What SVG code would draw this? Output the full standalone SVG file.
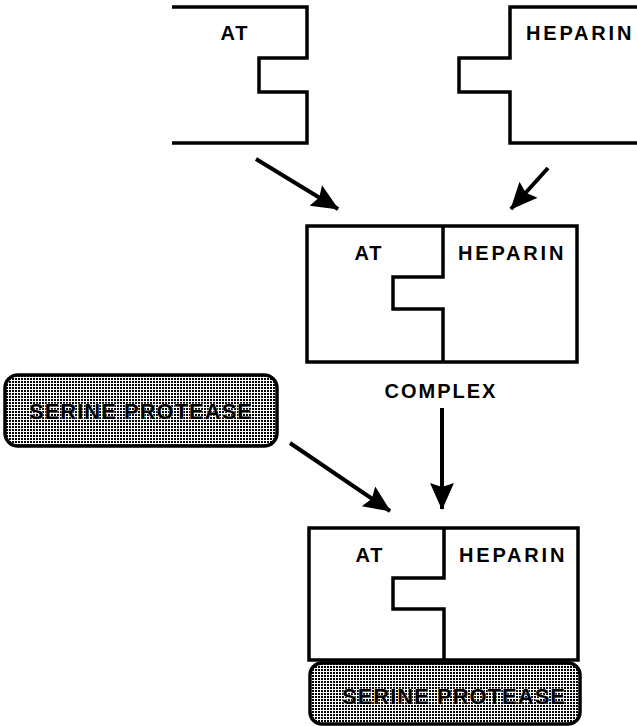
<svg xmlns="http://www.w3.org/2000/svg" width="637" height="726" viewBox="0 0 637 726">
  <style>
    .box { fill: none; stroke: #000; stroke-width: 3.5; stroke-linejoin: miter; }
    .lbl { font-family: "Liberation Sans", Arial, sans-serif; font-weight: bold; font-size: 20px; letter-spacing: 2px; fill: #000; }
    .hep { letter-spacing: 2.8px; }
    .ser { font-family: "Liberation Sans", Arial, sans-serif; font-weight: bold; font-size: 22px; letter-spacing: 1px; fill: #000; stroke: #fff; stroke-width: 0.6; paint-order: stroke; }
    .serbox { fill: url(#dots); stroke: #000; stroke-width: 3.5; }
    .conn { stroke: #000; stroke-width: 4; fill: none; }
  </style>
  <defs>
    <pattern id="dots" width="3" height="3" patternUnits="userSpaceOnUse">
      <rect width="3" height="3" fill="#fff"/>
      <rect x="0" y="0" width="2" height="2" fill="#000"/>
    </pattern>
    <marker id="ah" markerUnits="userSpaceOnUse" markerWidth="30" markerHeight="26" refX="26" refY="12" orient="auto">
      <path d="M0,0 L27,12 L0,24 L4,12 z" fill="#000"/>
    </marker>
  </defs>

  <rect width="637" height="726" fill="#fff"/>

  <g id="at-top">
    <path class="box" d="M172,7 H307 V58 H259 V92 H307 V143 H172"/>
    <text class="lbl" x="235" y="40" text-anchor="middle">AT</text>
  </g>

  <g id="heparin-top">
    <path class="box" d="M640,7 H510 V58 H459 V92 H510 V143 H640"/>
    <text class="lbl hep" x="526" y="40">HEPARIN</text>
  </g>

  <g id="complex">
    <rect class="box" x="307" y="226" width="270" height="136"/>
    <path class="box" d="M443,226 V277 H393 V309 H443 V362"/>
    <text class="lbl" x="369" y="260" text-anchor="middle">AT</text>
    <text class="lbl hep" x="458" y="260">HEPARIN</text>
    <text class="lbl" x="441" y="398" text-anchor="middle">COMPLEX</text>
  </g>

  <g id="serine-protease">
    <rect class="serbox" x="5" y="375" width="272" height="71" rx="13" ry="13"/>
    <text class="ser" x="141" y="419" text-anchor="middle">SERINE PROTEASE</text>
  </g>

  <g id="final-complex">
    <rect class="box" x="309" y="528" width="269" height="132"/>
    <path class="box" d="M444,528 V578 H393 V609 H444 V660"/>
    <text class="lbl" x="370" y="562" text-anchor="middle">AT</text>
    <text class="lbl hep" x="459" y="562">HEPARIN</text>
    <rect class="serbox" x="310" y="663" width="270" height="61" rx="12" ry="12"/>
    <text class="ser" x="454" y="704" text-anchor="middle">SERINE PROTEASE</text>
  </g>

  <g id="connectors">
    <line class="conn" x1="256" y1="159" x2="338" y2="209" marker-end="url(#ah)"/>
    <line class="conn" x1="548" y1="168" x2="511" y2="209" marker-end="url(#ah)"/>
    <line class="conn" x1="442" y1="408" x2="442" y2="509" marker-end="url(#ah)"/>
    <line class="conn" x1="290" y1="443" x2="390" y2="511" marker-end="url(#ah)"/>
  </g>
</svg>
